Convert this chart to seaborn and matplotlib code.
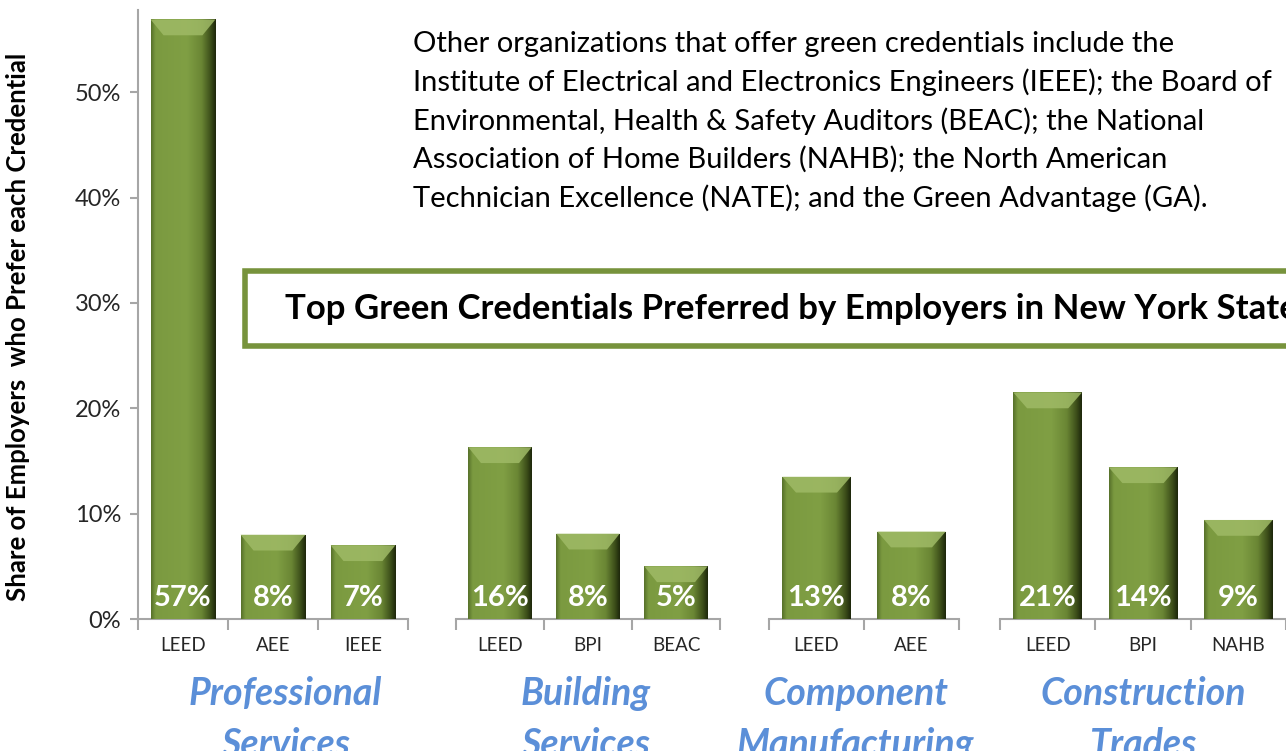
import numpy as np
import matplotlib
matplotlib.use("Agg")
import matplotlib.pyplot as plt
import seaborn as sns
import pandas as pd
from matplotlib.colors import LinearSegmentedColormap
from matplotlib.patches import Rectangle, Polygon
from matplotlib.ticker import PercentFormatter

# -----------------------------------------------------------------------------
# Data
# -----------------------------------------------------------------------------
sectors = ["Professional\nServices", "Building\nServices",
           "Component\nManufacturing", "Construction\nTrades"]
credentials = [["LEED", "AEE", "IEEE"],
               ["LEED", "BPI", "BEAC"],
               ["LEED", "AEE"],
               ["LEED", "BPI", "NAHB"]]
shares = [[56.9, 8.0, 7.0],
          [16.3, 8.1, 5.0],
          [13.5, 8.3],
          [21.5, 14.4, 9.4]]
share_labels = [["57%", "8%", "7%"],
                ["16%", "8%", "5%"],
                ["13%", "8%"],
                ["21%", "14%", "9%"]]

note = ("Other organizations that offer green credentials include the\n"
        "Institute of Electrical and Electronics Engineers (IEEE); the Board of\n"
        "Environmental, Health & Safety Auditors (BEAC); the National\n"
        "Association of Home Builders (NAHB); the North American\n"
        "Technician Excellence (NATE); and the Green Advantage (GA).")
title = "Top Green Credentials Preferred by Employers in New York State"
ylabel = "Share of Employers  who Prefer each Credential"

GREEN = "#7A9A3E"
BLUE = "#5B8FD8"
AXIS_GREY = "#A6A6A6"

sns.set_theme(style="white")
plt.rcParams["font.family"] = ["Lato", "DejaVu Sans"]

W, H = 1286, 751
fig = plt.figure(figsize=(W / 100, H / 100), dpi=100)

# panel extents in pixels (left, right); shared baseline/top
panel_px = [(138, 408), (456, 720), (769, 959), (1000, 1286)]
base_px, top_px = 619, 10
# small horizontal nudge of the sector captions (points)
caption_dx = [9, -2, -6, 0]

bar_cmap = LinearSegmentedColormap.from_list(
    "bevel", [(0.0, "#56702a"), (0.07, "#7b9a40"), (0.55, "#809f44"),
              (0.78, "#6a8634"), (0.92, "#3d4f1a"), (1.0, "#1d260b")])


def shade_bars(ax):
    """Overlay a bevel-like gradient on each bar patch."""
    grad = np.linspace(0, 1, 256).reshape(1, -1)
    for p in list(ax.patches):
        x0, y0 = p.get_x(), p.get_y()
        w, h = p.get_width(), p.get_height()
        im = ax.imshow(grad, extent=[x0, x0 + w, y0, y0 + h], aspect="auto",
                       cmap=bar_cmap, zorder=3, interpolation="bicubic")
        im.set_clip_path(p)
        # top bevel
        inset = w * 0.2
        bh = 1.5
        ax.add_patch(Polygon([[x0, y0 + h], [x0 + w, y0 + h],
                              [x0 + w - inset, y0 + h - bh],
                              [x0 + inset, y0 + h - bh]],
                             closed=True, facecolor="#9fba66", edgecolor="none",
                             zorder=4, alpha=0.85))


axes = []
for i, (sector, creds, vals, labs) in enumerate(zip(sectors, credentials,
                                                   shares, share_labels)):
    l, r = panel_px[i]
    ax = fig.add_axes([l / W, 1 - base_px / H, (r - l) / W,
                       (base_px - top_px) / H])
    df = pd.DataFrame({"credential": creds, "share": vals})
    sns.barplot(data=df, x="credential", y="share", color=GREEN,
                width=0.72, saturation=1, ax=ax, zorder=2)
    shade_bars(ax)

    for p, lab in zip([pp for pp in ax.patches if isinstance(pp, Rectangle)],
                      labs):
        ax.annotate(lab, (p.get_x() + p.get_width() / 2, 0),
                    xytext=(0, 15), textcoords="offset points",
                    ha="center", va="center", color="white",
                    fontsize=21, fontweight="bold", zorder=6)

    n = len(creds)
    ax.set_xlim(-0.5, n - 0.5)
    ax.set_ylim(0, 57.8)
    ax.set_xticks(np.arange(n + 1) - 0.5)
    ax.set_xticklabels([])
    ax.set_xticks(np.arange(n), minor=True)
    ax.set_xticklabels(creds, minor=True, fontsize=13.5)
    ax.tick_params(axis="x", which="major", direction="out", length=8,
                   width=1.5, color=AXIS_GREY, bottom=True)
    ax.tick_params(axis="x", which="minor", length=0, pad=13)
    ax.set_xlabel("")
    ax.set_ylabel("")

    for s in ["top", "right"]:
        ax.spines[s].set_visible(False)
    ax.spines["bottom"].set_color(AXIS_GREY)
    ax.spines["bottom"].set_linewidth(1.5)

    if i == 0:
        ax.set_yticks(np.arange(0, 51, 10))
        ax.yaxis.set_major_formatter(PercentFormatter(decimals=0))
        ax.tick_params(axis="y", direction="out", length=6, width=1.5,
                       color=AXIS_GREY, left=True, labelsize=17, pad=6)
        ax.spines["left"].set_color(AXIS_GREY)
        ax.spines["left"].set_linewidth(1.5)
    else:
        ax.set_yticks([])
        ax.spines["left"].set_visible(False)

    ax.patch.set_alpha(0)
    ax.annotate(sector, (0.5, -0.093), xycoords="axes fraction",
                xytext=(caption_dx[i], 0), textcoords="offset points",
                ha="center", va="top", fontsize=27, fontweight="bold",
                fontstyle="italic", color=BLUE, linespacing=1.55)
    axes.append(ax)

fig.text(18 / W, 1 - 327 / H, ylabel, rotation=90, ha="center", va="center",
         fontsize=18.5, fontweight="bold", color="black")

fig.text(413 / W, 1 - 31 / H, note, ha="left", va="top", fontsize=21,
         color="black", linespacing=1.5)

fig.patches.append(Rectangle((245 / W, 1 - 346 / H), 1.1, 75 / H,
                             transform=fig.transFigure, facecolor="white",
                             edgecolor="#77933C", linewidth=4, zorder=5))
fig.text(285 / W, 1 - 309 / H, title, ha="left", va="center", fontsize=25,
         fontweight="bold", color="black", zorder=6)

fig.savefig("out.png", dpi=100)
